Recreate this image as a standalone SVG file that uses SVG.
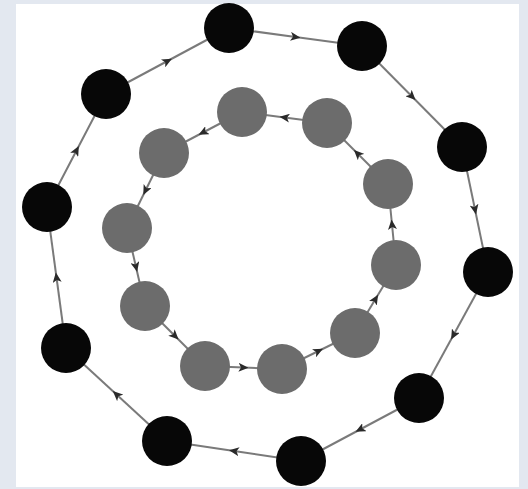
<svg xmlns="http://www.w3.org/2000/svg" width="528" height="489" viewBox="0 0 528 489">
<style>
.e{fill:none;stroke:#7a7a7a;stroke-width:2;marker-mid:url(#ah)}
.o{fill:#070707}
.i{fill:#6c6c6c}
</style>
<defs>
<marker id="ah" markerUnits="userSpaceOnUse" markerWidth="10" markerHeight="9" refX="5" refY="4.5" orient="auto">
<path d="M0,0 L10,4.5 L0,9 L2.5,4.5 z" fill="#2a2a2a"/>
</marker>
</defs>
<rect x="0" y="0" width="528" height="489" fill="#e3e8f0"/>
<rect x="16" y="4" width="503" height="483" fill="#ffffff"/>
<g id="connectors">
<path class="e" d="M229,28 L295.5,37 L362,46"/>
<path class="e" d="M362,46 L412,96.5 L462,147"/>
<path class="e" d="M462,147 L475,209.5 L488,272"/>
<path class="e" d="M488,272 L453.5,335 L419,398"/>
<path class="e" d="M419,398 L360,429.5 L301,461"/>
<path class="e" d="M301,461 L234,451 L167,441"/>
<path class="e" d="M167,441 L116.5,394.5 L66,348"/>
<path class="e" d="M66,348 L56.5,277.5 L47,207"/>
<path class="e" d="M47,207 L76.5,150.5 L106,94"/>
<path class="e" d="M106,94 L167.5,61 L229,28"/>
<path class="e" d="M327,123 L284.5,117.5 L242,112"/>
<path class="e" d="M242,112 L203,132.5 L164,153"/>
<path class="e" d="M164,153 L145.5,190.5 L127,228"/>
<path class="e" d="M127,228 L136,267 L145,306"/>
<path class="e" d="M145,306 L175,336 L205,366"/>
<path class="e" d="M205,366 L243.5,367.5 L282,369"/>
<path class="e" d="M282,369 L318.5,351 L355,333"/>
<path class="e" d="M355,333 L375.5,299 L396,265"/>
<path class="e" d="M396,265 L392,224.5 L388,184"/>
<path class="e" d="M388,184 L357.5,153.5 L327,123"/>
</g>
<g id="o1"><circle class="o" cx="229" cy="28" r="25"/></g>
<g id="o2"><circle class="o" cx="362" cy="46" r="25"/></g>
<g id="o3"><circle class="o" cx="462" cy="147" r="25"/></g>
<g id="o4"><circle class="o" cx="488" cy="272" r="25"/></g>
<g id="o5"><circle class="o" cx="419" cy="398" r="25"/></g>
<g id="o6"><circle class="o" cx="301" cy="461" r="25"/></g>
<g id="o7"><circle class="o" cx="167" cy="441" r="25"/></g>
<g id="o8"><circle class="o" cx="66" cy="348" r="25"/></g>
<g id="o9"><circle class="o" cx="47" cy="207" r="25"/></g>
<g id="o10"><circle class="o" cx="106" cy="94" r="25"/></g>
<g id="ia"><circle class="i" cx="242" cy="112" r="25"/></g>
<g id="ib"><circle class="i" cx="327" cy="123" r="25"/></g>
<g id="ic"><circle class="i" cx="388" cy="184" r="25"/></g>
<g id="id"><circle class="i" cx="396" cy="265" r="25"/></g>
<g id="ie"><circle class="i" cx="355" cy="333" r="25"/></g>
<g id="if"><circle class="i" cx="282" cy="369" r="25"/></g>
<g id="ig"><circle class="i" cx="205" cy="366" r="25"/></g>
<g id="ih"><circle class="i" cx="145" cy="306" r="25"/></g>
<g id="ii"><circle class="i" cx="127" cy="228" r="25"/></g>
<g id="ij"><circle class="i" cx="164" cy="153" r="25"/></g>
</svg>
